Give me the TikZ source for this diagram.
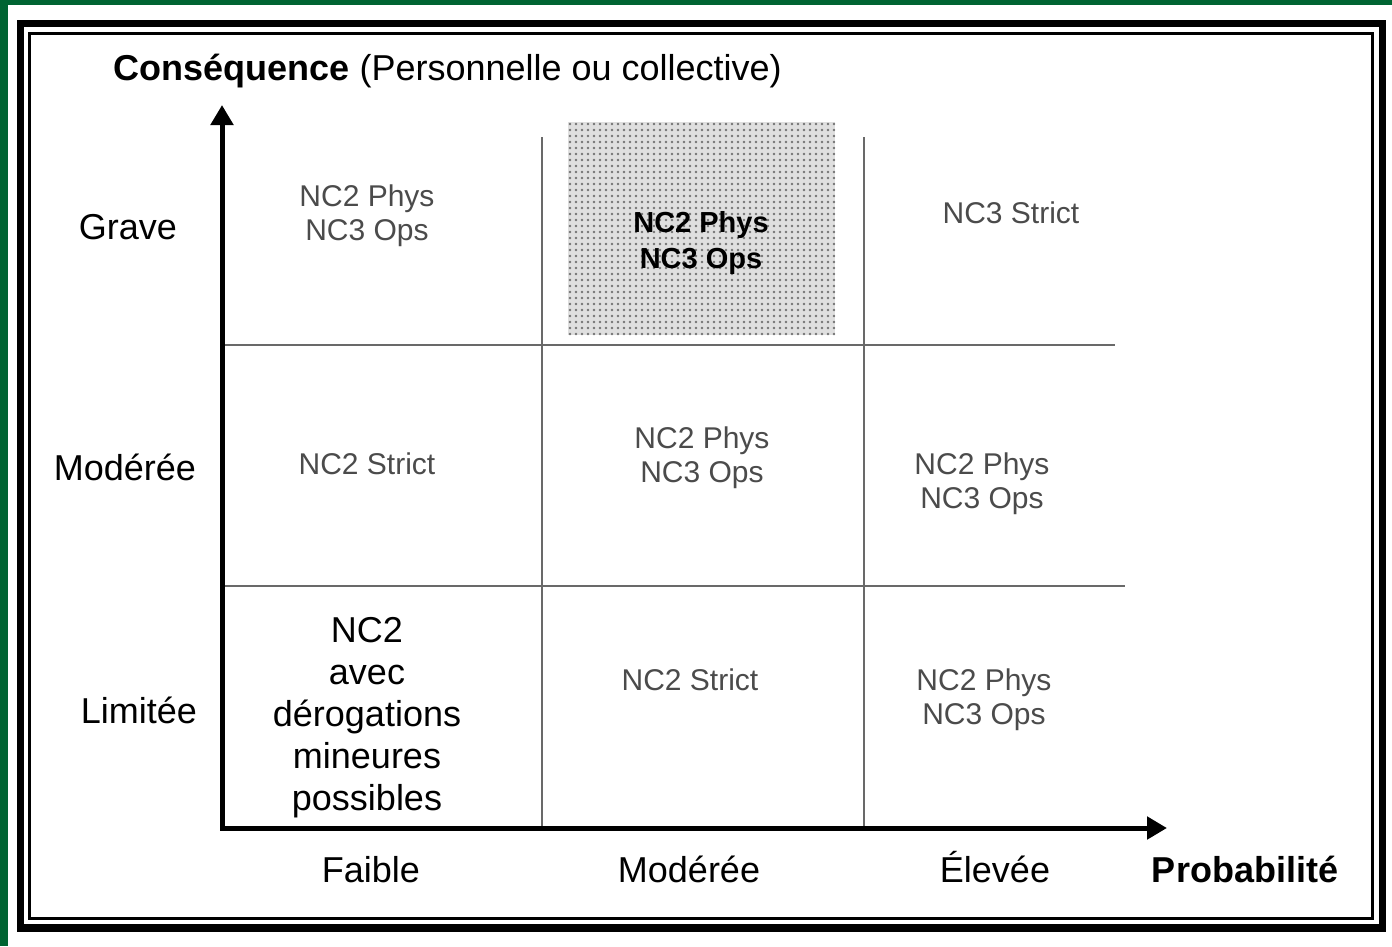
\documentclass[tikz,border=0pt]{standalone}
\usepackage{fontspec}
\setmainfont{Liberation Sans}
\usetikzlibrary{arrows.meta, patterns.meta}
\definecolor{framegreen}{RGB}{0, 100, 50}
\definecolor{cellgray}{RGB}{75, 75, 75}
\definecolor{gridgray}{RGB}{105, 105, 105}

\begin{document}
\begin{tikzpicture}[x=1pt, y=-1pt,
  celltext/.style={text=cellgray, align=center, font=\fontsize{30}{34}\selectfont},
  axlabel/.style={anchor=base, font=\fontsize{36}{41}\selectfont},
  gridline/.style={draw=gridgray, line width=2.5pt},
  axisline/.style={line width=5pt, line join=miter,
    {Triangle[length=20pt, width=22pt]}-{Triangle[length=20pt, width=22pt]}}
]
  \useasboundingbox (0,0) rectangle (1392,946);
  \fill[white] (0,0) rectangle (1392,946);
  \fill[framegreen] (0,0) rectangle (1392,5);
  \fill[framegreen] (0,0) rectangle (8,946);

  % double frame
  \draw[line width=7.5pt] (20.5,23.5) rectangle (1382.5,928);
  \draw[line width=3pt] (29,33) rectangle (1372,918);

  % shaded cell
  \node[minimum width=267pt, minimum height=213pt, inner sep=0pt,
    preaction={fill=gray!25}, pattern={Dots[distance=6pt, radius=1.3pt]},
    pattern color=gray!90!black] (hotcell) at (701.5,228.5) {};

  % grid
  \foreach \x in {542,864}
    \draw[gridline] (\x,137) -- (\x,828);
  \draw[gridline] (222,345) -- (1115,345);
  \draw[gridline] (222,586) -- (1125,586);

  % axes
  \coordinate (origin) at (222,828);
  \coordinate (ytip) at (222,105);
  \coordinate (xtip) at (1167,828);
  \draw[axisline] (ytip) -- (origin) -- (xtip);

  \node[anchor=base west, font=\fontsize{36}{41}\selectfont] (title) at (110,80)
    {\textbf{Conséquence} (Personnelle ou collective)};

  \node[axlabel] (grave) at (128,239) {Grave};
  \node[axlabel] (moderee) at (125,480) {Modérée};
  \node[axlabel] (limitee) at (139,723) {Limitée};

  \node[axlabel] (faible) at (371,882) {Faible};
  \node[axlabel] (probmod) at (689,882) {Modérée};
  \node[axlabel] (elevee) at (995,882) {Élevée};
  \node[axlabel, font=\bfseries\fontsize{36}{41}\selectfont] (proba) at (1245,882) {Probabilité};

  % cells, top row first
  \node[celltext] (c11) at (367,216) {NC2 Phys\\NC3 Ops};
  \node[celltext, text=black, font=\fontsize{29}{36}\selectfont\bfseries] (c12) at (701,243) {NC2 Phys\\NC3 Ops};
  \node[celltext] (c13) at (1011,213) {NC3 Strict};
  \node[celltext] (c21) at (367,464) {NC2 Strict};
  \node[celltext] (c22) at (702,458) {NC2 Phys\\NC3 Ops};
  \node[celltext] (c23) at (982,484) {NC2 Phys\\NC3 Ops};
  \node[align=center, font=\fontsize{36}{42}\selectfont] (c31) at (367,718)
    {NC2\\avec\\dérogations\\mineures\\possibles};
  \node[celltext] (c32) at (690,680) {NC2 Strict};
  \node[celltext] (c33) at (984,700) {NC2 Phys\\NC3 Ops};
\end{tikzpicture}
\end{document}
